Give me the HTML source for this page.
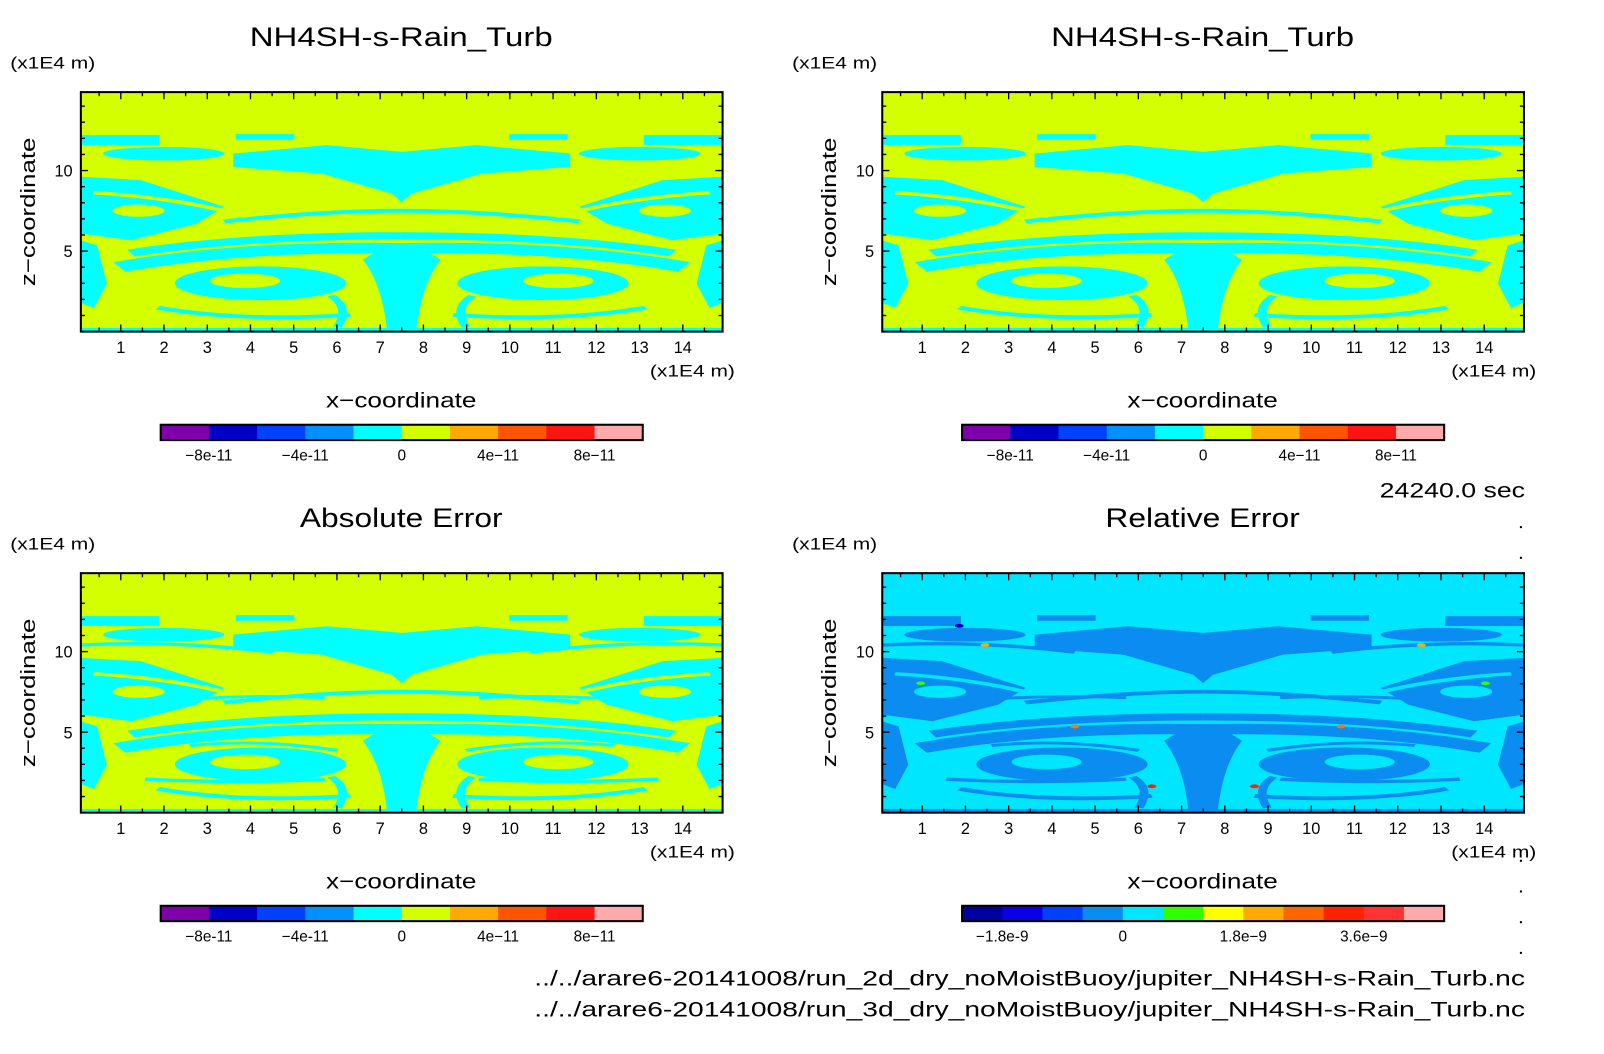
<!DOCTYPE html>
<html><head><meta charset="utf-8"><style>
html,body{margin:0;padding:0;background:#fff}
svg{display:block;font-family:"Liberation Sans",sans-serif}
</style></head><body>
<svg id="page" width="1604" height="1054" viewBox="0 0 1604 1054" xmlns="http://www.w3.org/2000/svg">
<defs>
<g id="half">
  <rect x="0" y="180" width="122" height="40"/>
  <rect x="242" y="176" width="90" height="22"/>
  <ellipse cx="129" cy="257" rx="94" ry="28"/>
  <polygon points="238,257 383,222 500,250 500,458 485,424 376,340 238,312"/>
  <polygon points="0,354 93,368 223,479 180,549 78,618 0,590"/>
  <path d="M223,540 Q380,495 500,495" fill="none" stroke-width="16"/>
  <path d="M78,672 Q250,600 500,600" fill="none" stroke-width="30"/>
  <path d="M60,730 Q250,640 500,652" fill="none" stroke-width="44"/>
  <path d="M470,650 L500,650 L500,1000 L478,1000 Q470,800 440,700 Z"/>
  <ellipse cx="280" cy="798" rx="133" ry="70"/>
  <path d="M120,900 Q250,960 420,930" fill="none" stroke-width="16"/>
  <path d="M0,620 L25,640 L40,800 L20,900 L0,880 Z"/>
  <rect x="0" y="985" width="500" height="15"/>
  <path d="M390,850 Q420,900 400,980" fill="none" stroke-width="14"/>
</g>
<g id="holes">
  <ellipse cx="256" cy="788" rx="54" ry="30"/>
  <ellipse cx="90" cy="495" rx="40" ry="25"/>
  <path d="M20,420 Q150,440 260,520" fill="none" stroke-width="14"/>
</g>
<g id="extra">
  <path d="M0,300 Q150,280 300,330" fill="none" stroke-width="14"/>
  <path d="M60,560 Q200,500 380,520" fill="none" stroke-width="12"/>
  <path d="M100,860 Q250,880 380,860" fill="none" stroke-width="14"/>
  <path d="M170,720 Q280,690 400,740" fill="none" stroke-width="12"/>
</g>
<g id="field"><use href="#half"/><use href="#half" transform="translate(1000,0) scale(-1,1)"/></g>
<g id="fholes"><use href="#holes"/><use href="#holes" transform="translate(1000,0) scale(-1,1)"/></g>
<g id="fextra"><use href="#extra"/><use href="#extra" transform="translate(1000,0) scale(-1,1)"/></g>
</defs>
<g id="root" transform="scale(1.0235)"></g>
</svg>
<script>
const xTicks=[1,2,3,4,5,6,7,8,9,10,11,12,13,14];
const yTicks=[5,10];
const xDomain=[0.0765,14.92];
const yDomain=[0,14.87];
const cbLabelsA=["-8e-11","-4e-11","0","4e-11","8e-11"];
const cbLabelPosA=[1,3,5,7,9];
const cbColorsA=["#7f00aa","#0000c8","#0040ff","#0090ff","#00ffff","#d4ff00","#ffaa00","#ff5500","#ff1414","#ffaaaa"];
const cbLabelsB=["-1.8e-9","0","1.8e-9","3.6e-9"];
const cbLabelPosB=[1,4,7,10];
const cbColorsB=["#0000a0","#0a00e6","#0040ff","#0a8cf0","#00e6ff","#30ff00","#ffff00","#ffaa00","#ff6600","#ff2200","#ff3333","#ffaaaa"];
const panels=[
 {name:"top-left",x:79,y:90,title:"NH4SH-s-Rain_Turb",tl:296,bg:"#d4ff00",fg:"#00ffff",cb:"A",extra:false},
 {name:"top-right",x:862,y:90,title:"NH4SH-s-Rain_Turb",tl:296,bg:"#d4ff00",fg:"#00ffff",cb:"A",extra:false},
 {name:"absolute-error",x:79,y:560,title:"Absolute Error",tl:198,bg:"#d4ff00",fg:"#00ffff",cb:"A",extra:true},
 {name:"relative-error",x:862,y:560,title:"Relative Error",tl:190,bg:"#00e6ff",fg:"#0a8cf0",cb:"B",extra:true}
];
const W=627,H=234,NS="http://www.w3.org/2000/svg";
const root=document.getElementById('root');
function mk(t,a,p){const e=document.createElementNS(NS,t);for(const k in a)e.setAttribute(k,a[k]);(p||root).appendChild(e);return e;}
function txt(s,x,y,size,anchor,p,len){const e=mk('text',{x:x,y:y,'font-size':size,'text-anchor':anchor||'middle',fill:'#000'},p);e.textContent=s;if(len){e.setAttribute('textLength',len);e.setAttribute('lengthAdjust','spacingAndGlyphs');}return e;}
panels.forEach(P=>{
 const g=mk('g',{});
 
 
 const sx=v=>P.x+(v-xDomain[0])/(xDomain[1]-xDomain[0])*W;
 const sy=v=>P.y+H-(v-yDomain[0])/(yDomain[1]-yDomain[0])*H;
 const t=txt(P.title,P.x+313,P.y-45,26,'middle',g,P.tl);
 
 
 const u1=txt("(x1E4 m)",10,P.y-23,16,'start',g,83);
 
 
 if(P.x>500){u1.setAttribute('x',P.x-88);}
 const plot=mk('svg',{x:P.x,y:P.y,width:W,height:H,viewBox:"0 0 1000 1000",preserveAspectRatio:"none"},g);
 
 
 mk('rect',{x:0,y:0,width:1000,height:1000,fill:P.bg},plot);
 mk('use',{href:"#field",fill:P.fg,stroke:P.fg},plot);
 mk('use',{href:"#fholes",fill:P.bg,stroke:P.bg},plot);
 if(P.extra){mk('use',{href:"#fextra",fill:P.fg,stroke:P.fg},plot);}
 if(P.cb==="B"){
  [[120,220,"#0000c8"],[300,640,"#ff7700"],[420,890,"#ff2200"],[580,890,"#ff2200"],[715,640,"#ff7700"],[940,460,"#30ff00"],[60,460,"#30ff00"],[840,300,"#ffaa00"],[160,300,"#ffaa00"]].forEach(d=>{
   mk('ellipse',{cx:d[0],cy:d[1],rx:7,ry:8,fill:d[2]},plot);});
 }
 mk('rect',{x:P.x,y:P.y,width:W,height:H,fill:'none',stroke:'#000','stroke-width':2},g);
 for(let v=0.5;v<15;v+=0.5){if(v<xDomain[0]||v>xDomain[1])continue;const L=Number.isInteger(v)?7:4;const X=sx(v);
  mk('line',{x1:X,y1:P.y+H,x2:X,y2:P.y+H-L,stroke:'#000','stroke-width':1.3},g);
  mk('line',{x1:X,y1:P.y,x2:X,y2:P.y+L,stroke:'#000','stroke-width':1.3},g);}
 for(let v=1;v<15;v++){const L=(v%5===0)?7:4;const Y=sy(v);
  mk('line',{x1:P.x,y1:Y,x2:P.x+L,y2:Y,stroke:'#000','stroke-width':1.3},g);
  mk('line',{x1:P.x+W,y1:Y,x2:P.x+W-L,y2:Y,stroke:'#000','stroke-width':1.3},g);}
 xTicks.forEach(v=>{const e=txt(String(v),sx(v),P.y+H+21,16,'middle',g);
  
  });
 yTicks.forEach(v=>{const e=txt(String(v),P.x-8,sy(v)+6,16,'end',g);
  
  });
 const u2=txt("(x1E4 m)",P.x+639,P.y+H+44,16,'end',g,83);
 
 
 const xt=txt("x\u2212coordinate",P.x+313,P.y+H+74,21,'middle',g,147);
 
 
 const yt=txt("z\u2212coordinate",0,0,20,'middle',g,145);
 yt.setAttribute('transform','translate('+(P.x-45)+','+(P.y+117)+') rotate(-90)');
 
 
 const cols=P.cb==="A"?cbColorsA:cbColorsB, labs=P.cb==="A"?cbLabelsA:cbLabelsB, pos=P.cb==="A"?cbLabelPosA:cbLabelPosB;
 const cbx=P.x+78,cby=P.y+H+91,cbw=471,cbh=15,bw=cbw/cols.length;
 const cbg=mk('g',{},g);
 
 
 cols.forEach((c,i)=>{mk('rect',{x:cbx+i*bw,y:cby,width:bw+0.5,height:cbh,fill:c},cbg);});
 mk('rect',{x:cbx,y:cby,width:cbw,height:cbh,fill:'none',stroke:'#000','stroke-width':2},cbg);
 labs.forEach((s,i)=>{const e=txt(s.replace('-','\u2212'),cbx+pos[i]*bw,cby+35,15,'middle',cbg);
  
  });
});
const tm=txt("24240.0 sec",1490,486,21,'end',root,142);


const f1=txt("../../arare6-20141008/run_2d_dry_noMoistBuoy/jupiter_NH4SH-s-Rain_Turb.nc",1490,963,21,'end',root,968);


const f2=txt("../../arare6-20141008/run_3d_dry_noMoistBuoy/jupiter_NH4SH-s-Rain_Turb.nc",1490,993,21,'end',root,968);


[514,544,840,870,900,930].forEach(y=>{mk('rect',{x:1485,y:y,width:2,height:2,fill:'#000'});});
</script>
</body></html>
